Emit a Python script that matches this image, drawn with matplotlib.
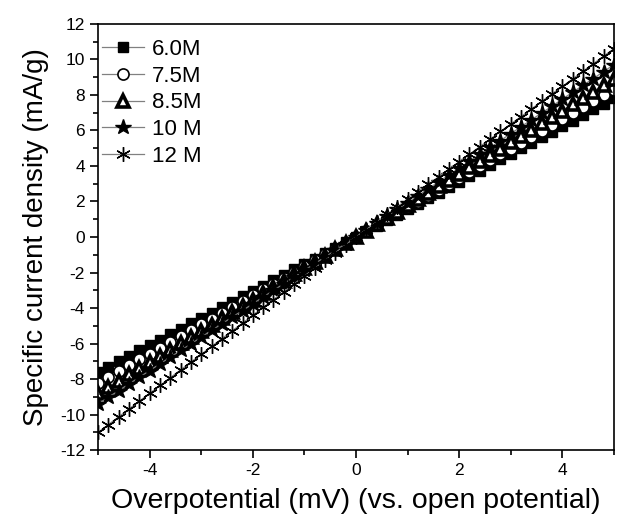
import numpy as np
import matplotlib
matplotlib.use("Agg")
import matplotlib.pyplot as plt
from matplotlib.ticker import MultipleLocator

plt.rcParams['font.family'] = ['Liberation Sans', 'DejaVu Sans']
plt.rcParams['axes.unicode_minus'] = False

# overpotential (mV), one point every 0.2 mV
x = np.round(np.arange(-25, 26) * 0.2, 1)

labels = ["6.0M", "7.5M", "8.5M", "10 M", "12 M"]

j_60 = [-7.60, -7.30, -6.99, -6.69, -6.38, -6.08, -5.78, -5.47, -5.17, -4.86,
        -4.56, -4.26, -3.95, -3.65, -3.34, -3.04, -2.74, -2.43, -2.13, -1.82,
        -1.52, -1.22, -0.91, -0.61, -0.30, 0.00,
        0.31, 0.62, 0.94, 1.25, 1.56, 1.87, 2.18, 2.50, 2.81, 3.12,
        3.43, 3.74, 4.06, 4.37, 4.68, 4.99, 5.30, 5.62, 5.93, 6.24,
        6.55, 6.86, 7.18, 7.49, 7.80]
j_75 = [-8.20, -7.87, -7.54, -7.22, -6.89, -6.56, -6.23, -5.90, -5.58, -5.25,
        -4.92, -4.59, -4.26, -3.94, -3.61, -3.28, -2.95, -2.62, -2.30, -1.97,
        -1.64, -1.31, -0.98, -0.66, -0.33, 0.00,
        0.33, 0.66, 1.00, 1.33, 1.66, 1.99, 2.32, 2.66, 2.99, 3.32,
        3.65, 3.98, 4.32, 4.65, 4.98, 5.31, 5.64, 5.98, 6.31, 6.64,
        6.97, 7.30, 7.64, 7.97, 8.30]
j_85 = [-8.80, -8.45, -8.10, -7.74, -7.39, -7.04, -6.69, -6.34, -5.98, -5.63,
        -5.28, -4.93, -4.58, -4.22, -3.87, -3.52, -3.17, -2.82, -2.46, -2.11,
        -1.76, -1.41, -1.06, -0.70, -0.35, 0.00,
        0.36, 0.71, 1.07, 1.42, 1.78, 2.14, 2.49, 2.85, 3.20, 3.56,
        3.92, 4.27, 4.63, 4.98, 5.34, 5.70, 6.05, 6.41, 6.76, 7.12,
        7.48, 7.83, 8.19, 8.54, 8.90]
j_10 = [-9.40, -9.02, -8.65, -8.27, -7.90, -7.52, -7.14, -6.77, -6.39, -6.02,
        -5.64, -5.26, -4.89, -4.51, -4.14, -3.76, -3.38, -3.01, -2.63, -2.26,
        -1.88, -1.50, -1.13, -0.75, -0.38, 0.00,
        0.39, 0.78, 1.16, 1.55, 1.94, 2.33, 2.72, 3.10, 3.49, 3.88,
        4.27, 4.66, 5.04, 5.43, 5.82, 6.21, 6.60, 6.98, 7.37, 7.76,
        8.15, 8.54, 8.92, 9.31, 9.70]
j_12 = [-11.00, -10.56, -10.12, -9.68, -9.24, -8.80, -8.36, -7.92, -7.48, -7.04,
        -6.60, -6.16, -5.72, -5.28, -4.84, -4.40, -3.96, -3.52, -3.08, -2.64,
        -2.20, -1.76, -1.32, -0.88, -0.44, 0.00,
        0.42, 0.85, 1.27, 1.70, 2.12, 2.54, 2.97, 3.39, 3.82, 4.24,
        4.66, 5.09, 5.51, 5.94, 6.36, 6.78, 7.21, 7.63, 8.06, 8.48,
        8.90, 9.33, 9.75, 10.18, 10.60]

fig = plt.figure(figsize=(6.17, 5.18), dpi=100)
ax = fig.add_axes([0.159, 0.131, 0.836, 0.823])

line_kw = dict(color="#808080", lw=0.9, markeredgecolor="black")
ax.plot(x, j_60, marker='s', markersize=7.2, markerfacecolor="black", label=labels[0], **line_kw)
ax.plot(x, j_75, marker='o', markersize=8, markerfacecolor="white", markeredgewidth=1.2,
        label=labels[1], **line_kw)
ax.plot(x, j_85, marker='^', markersize=8, markerfacecolor="white", markeredgewidth=2.6,
        label=labels[2], **line_kw)
ax.plot(x, j_10, marker='*', markersize=11.5, markerfacecolor="black", label=labels[3], **line_kw)
ax.plot(x, j_12, marker=(6, 2, 0), markersize=10.5, markeredgewidth=1.0, label=labels[4], **line_kw)

ax.set_xlim(-5, 5)
ax.set_ylim(-12, 12)
ax.xaxis.set_major_locator(MultipleLocator(2))
ax.xaxis.set_minor_locator(MultipleLocator(1))
ax.yaxis.set_major_locator(MultipleLocator(2))
ax.yaxis.set_minor_locator(MultipleLocator(1))
ax.tick_params(which='major', direction='out', length=6, width=1.2, labelsize=12.5)
ax.tick_params(which='minor', direction='out', length=3.5, width=1.2)
for s in ax.spines.values():
    s.set_linewidth(1.2)

ax.set_xlabel("Overpotential (mV) (vs. open potential)", fontsize=20.5, labelpad=7)
ax.set_ylabel("Specific current density (mA/g)", fontsize=20, labelpad=8)

ax.legend(loc='upper left', frameon=False, fontsize=16, handlelength=1.9,
          handletextpad=0.35, labelspacing=0.26, borderpad=0.1, borderaxespad=0,
          bbox_to_anchor=(0.003, 0.97))

fig.savefig("out.png", dpi=100)
